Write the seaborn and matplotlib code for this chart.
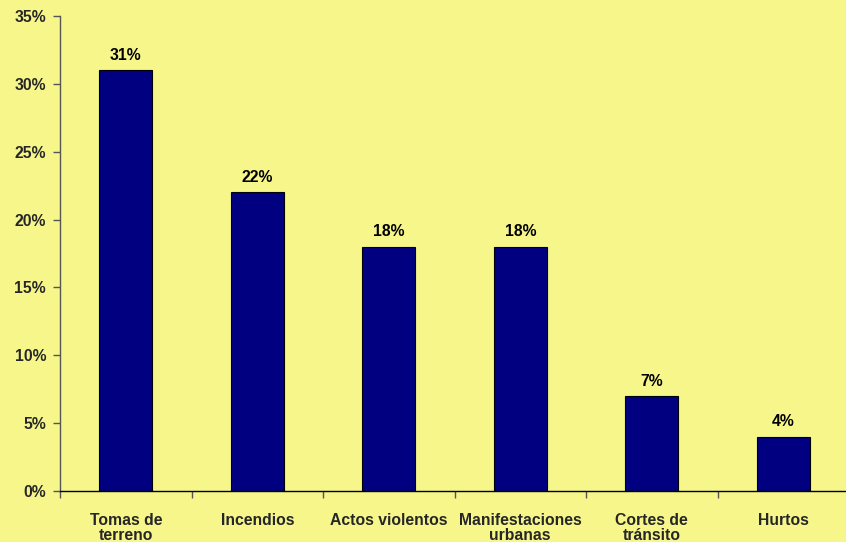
import matplotlib
matplotlib.use("Agg")
import matplotlib.pyplot as plt
import seaborn as sns
import pandas as pd
from matplotlib.ticker import MultipleLocator, FixedLocator, FuncFormatter

categories = ["Tomas de\nterreno", "Incendios", "Actos violentos",
              "Manifestaciones\nurbanas", "Cortes de\ntránsito", "Hurtos"]
values = [31, 22, 18, 18, 7, 4]
value_labels = ["31%", "22%", "18%", "18%", "7%", "4%"]

sns.set_theme(style="white")
plt.rcParams['font.family'] = ['Liberation Sans', 'DejaVu Sans']
plt.rcParams['font.weight'] = 'bold'

FS = 11.3
bg = "#F6F68B"
fig = plt.figure(figsize=(8.46, 5.42), dpi=100, facecolor=bg)
W, H = 846, 542
ax = fig.add_axes([60 / W, (H - 491) / H, (849 - 60) / W, (491 - 16) / H])
ax.set_facecolor(bg)

df = pd.DataFrame({"cat": categories, "val": values})
sns.barplot(data=df, x="cat", y="val", ax=ax, color="#000080",
            width=0.4, edgecolor="black", linewidth=0.8, saturation=1)

ax.set_ylim(0, 35)
ax.set_xlim(-0.5, len(categories) - 0.5)
ax.yaxis.set_major_locator(MultipleLocator(5))
ax.yaxis.set_major_formatter(FuncFormatter(lambda v, p: f"{int(v)}%"))

for i, (v, lab) in enumerate(zip(values, value_labels)):
    ax.text(i, v + 0.55, lab, ha="center", va="bottom", fontsize=FS,
            fontweight="bold", color="black")

ax.set_xlabel("")
ax.set_ylabel("")
for s in ["top", "right"]:
    ax.spines[s].set_visible(False)
ax.spines["left"].set_color("#555555")
ax.spines["bottom"].set_color("black")
ax.spines["left"].set_linewidth(1)
ax.spines["bottom"].set_linewidth(1)

ax.tick_params(axis="y", left=True, length=5, width=1, color="#555555",
               labelsize=FS, pad=5)
ax.tick_params(axis="x", bottom=False, labelsize=FS, pad=9.5)
# minor ticks at category boundaries
ax.xaxis.set_minor_locator(FixedLocator([i + 0.5 for i in range(-1, len(categories))]))
ax.tick_params(axis="x", which="minor", bottom=True, length=5, width=1, color="#555555")
for t in ax.get_xticklabels():
    t.set_fontweight("bold")
    t.set_linespacing(1.05)
for t in ax.get_yticklabels():
    t.set_fontweight("bold")

fig.savefig("out.png", dpi=100, facecolor=bg)
